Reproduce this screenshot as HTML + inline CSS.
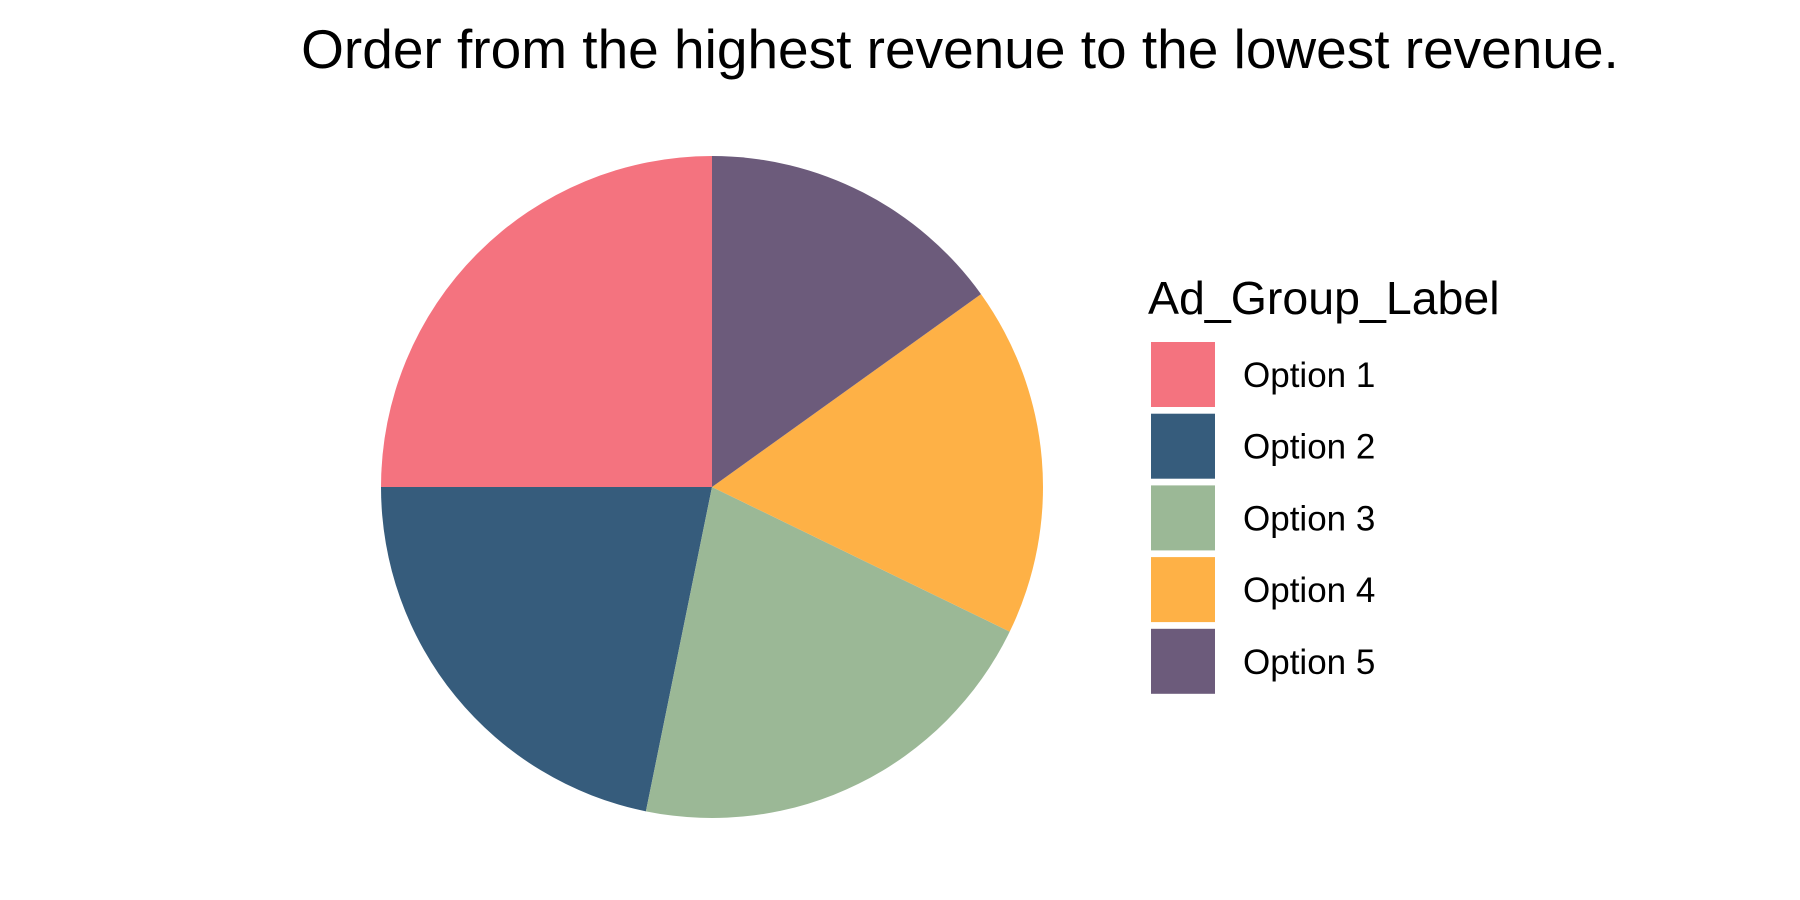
<!DOCTYPE html>
<html><head><meta charset="utf-8"><style>
html,body{margin:0;padding:0;background:#fff;}
svg{display:block;font-family:"Liberation Sans",Arial,sans-serif;}
</style></head><body>
<svg id="chart" width="1800" height="900" viewBox="0 0 1800 900">
<text x="960" y="68" font-size="55" text-anchor="middle" fill="#000">Order from the highest revenue to the lowest revenue.</text>
<g id="slices"></g>
<g id="legend">
<text x="1148" y="314" font-size="46.5" fill="#000">Ad_Group_Label</text>
</g>
</svg>
<script>
const categories = ["Option 1","Option 2","Option 3","Option 4","Option 5"];
const values = [25.0, 21.8, 21.0, 17.1, 15.1];
const colors = ["#F4737F","#365C7C","#9BB896","#FEB146","#6C5B7B"];
const NS="http://www.w3.org/2000/svg";
const cx=712, cy=487, r=331;
const total=values.reduce((a,b)=>a+b,0);
const g=document.getElementById('slices');
let acc=0;
function pt(f){const a=f*2*Math.PI;return [cx-r*Math.sin(a), cy-r*Math.cos(a)];}
values.forEach((v,i)=>{
  const f0=acc/total, f1=(acc+v)/total; acc+=v;
  const [x0,y0]=pt(f0),[x1,y1]=pt(f1);
  const large=(f1-f0)>0.5?1:0;
  const p=document.createElementNS(NS,'path');
  p.setAttribute('d',`M${cx},${cy} L${x0},${y0} A${r},${r} 0 ${large} 0 ${x1},${y1} Z`);
  p.setAttribute('fill',colors[i]);
  
  
  g.appendChild(p);
});
const lg=document.getElementById('legend');
categories.forEach((c,i)=>{
  const y=342+i*71.7;
  const rc=document.createElementNS(NS,'rect');
  rc.setAttribute('x',1151);rc.setAttribute('y',y);rc.setAttribute('width',64);rc.setAttribute('height',65);
  rc.setAttribute('fill',colors[i]);
  
  
  lg.appendChild(rc);
  const t=document.createElementNS(NS,'text');
  t.setAttribute('x',1243);t.setAttribute('y',y+45);t.setAttribute('font-size','35');
  t.textContent=c;
  
  
  lg.appendChild(t);
});
</script>
</body></html>
